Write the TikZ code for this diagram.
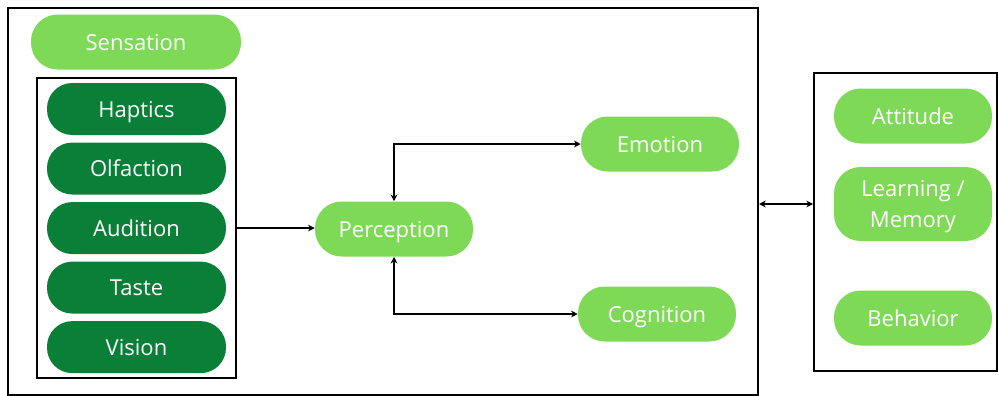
\documentclass[tikz,border=0pt]{standalone}
\usepackage{fontspec}
\setmainfont{Open Sans}
\usepackage{xcolor}
\usetikzlibrary{positioning,arrows.meta,fit}
\definecolor{litegreen}{HTML}{7ED957}
\definecolor{darkgreen}{HTML}{0A7F37}

\begin{document}
\begin{tikzpicture}[
  x=0.75pt, y=-0.75pt,
  node distance=5.25pt and 6mm,
  pill/.style={rounded corners=20pt, text=white, align=center, inner sep=0pt, font=\fontsize{16.5}{23}\selectfont, minimum height=41.25pt, text height=12pt, text depth=0pt},
  lite/.style={pill, fill=litegreen, minimum width=118.5pt},
  sense/.style={pill, fill=darkgreen, minimum width=134.25pt, minimum height=39pt, rounded corners=19pt},
  frame/.style={draw, line width=1.5pt, inner sep=0pt},
  arr/.style={-{Stealth[length=5pt, width=5pt]}, line width=1.1pt},
  biarr/.style={{Stealth[length=5pt, width=5pt]}-{Stealth[length=5pt, width=5pt]}, line width=1.1pt}]
\useasboundingbox (0,0) rectangle (999,396);
% frames
\node[frame, minimum width=562.5pt, minimum height=290pt] (mainbox) at (383,201.5) {};
\node[frame, minimum width=137.25pt, minimum height=223.5pt] (rightbox) at (905.5,222) {};
% sensation column
\node[lite, minimum width=157.5pt] (sensation) at (136,42) {Sensation};
\node[sense] (haptics) at (136.5,109) {Haptics};
\node[sense, below=of haptics] (olfaction) {Olfaction};
\node[sense, below=of olfaction] (audition) {Audition};
\node[sense, below=of audition] (taste) {Taste};
\node[sense, below=of taste] (vision) {Vision};
\node[frame, fit=(haptics)(vision), inner xsep=7pt, inner ysep=3.5pt] (sensebox) {};
% middle
\node[lite] (percep) at (394,229) {Perception};
\node[lite] (emotion) at (660,144) {Emotion};
\node[lite] (cognition) at (657,314) {Cognition};
% right
\node[lite] (attitude) at (913,116) {Attitude};
\node[lite, minimum height=55.5pt, text height=35pt] (learn) at (913,204) {Learning /\\Memory};
\node[lite] (behavior) at (913,318) {Behavior};
% connectors
\draw[arr] (sensebox.east |- audition) -- (audition -| percep.west);
\draw[biarr] (percep.north) |- (emotion.west);
\draw[biarr] (percep.south) |- (cognition.west);
\draw[biarr] (mainbox.east |- learn) -- (rightbox.west |- learn);
\end{tikzpicture}
\end{document}
